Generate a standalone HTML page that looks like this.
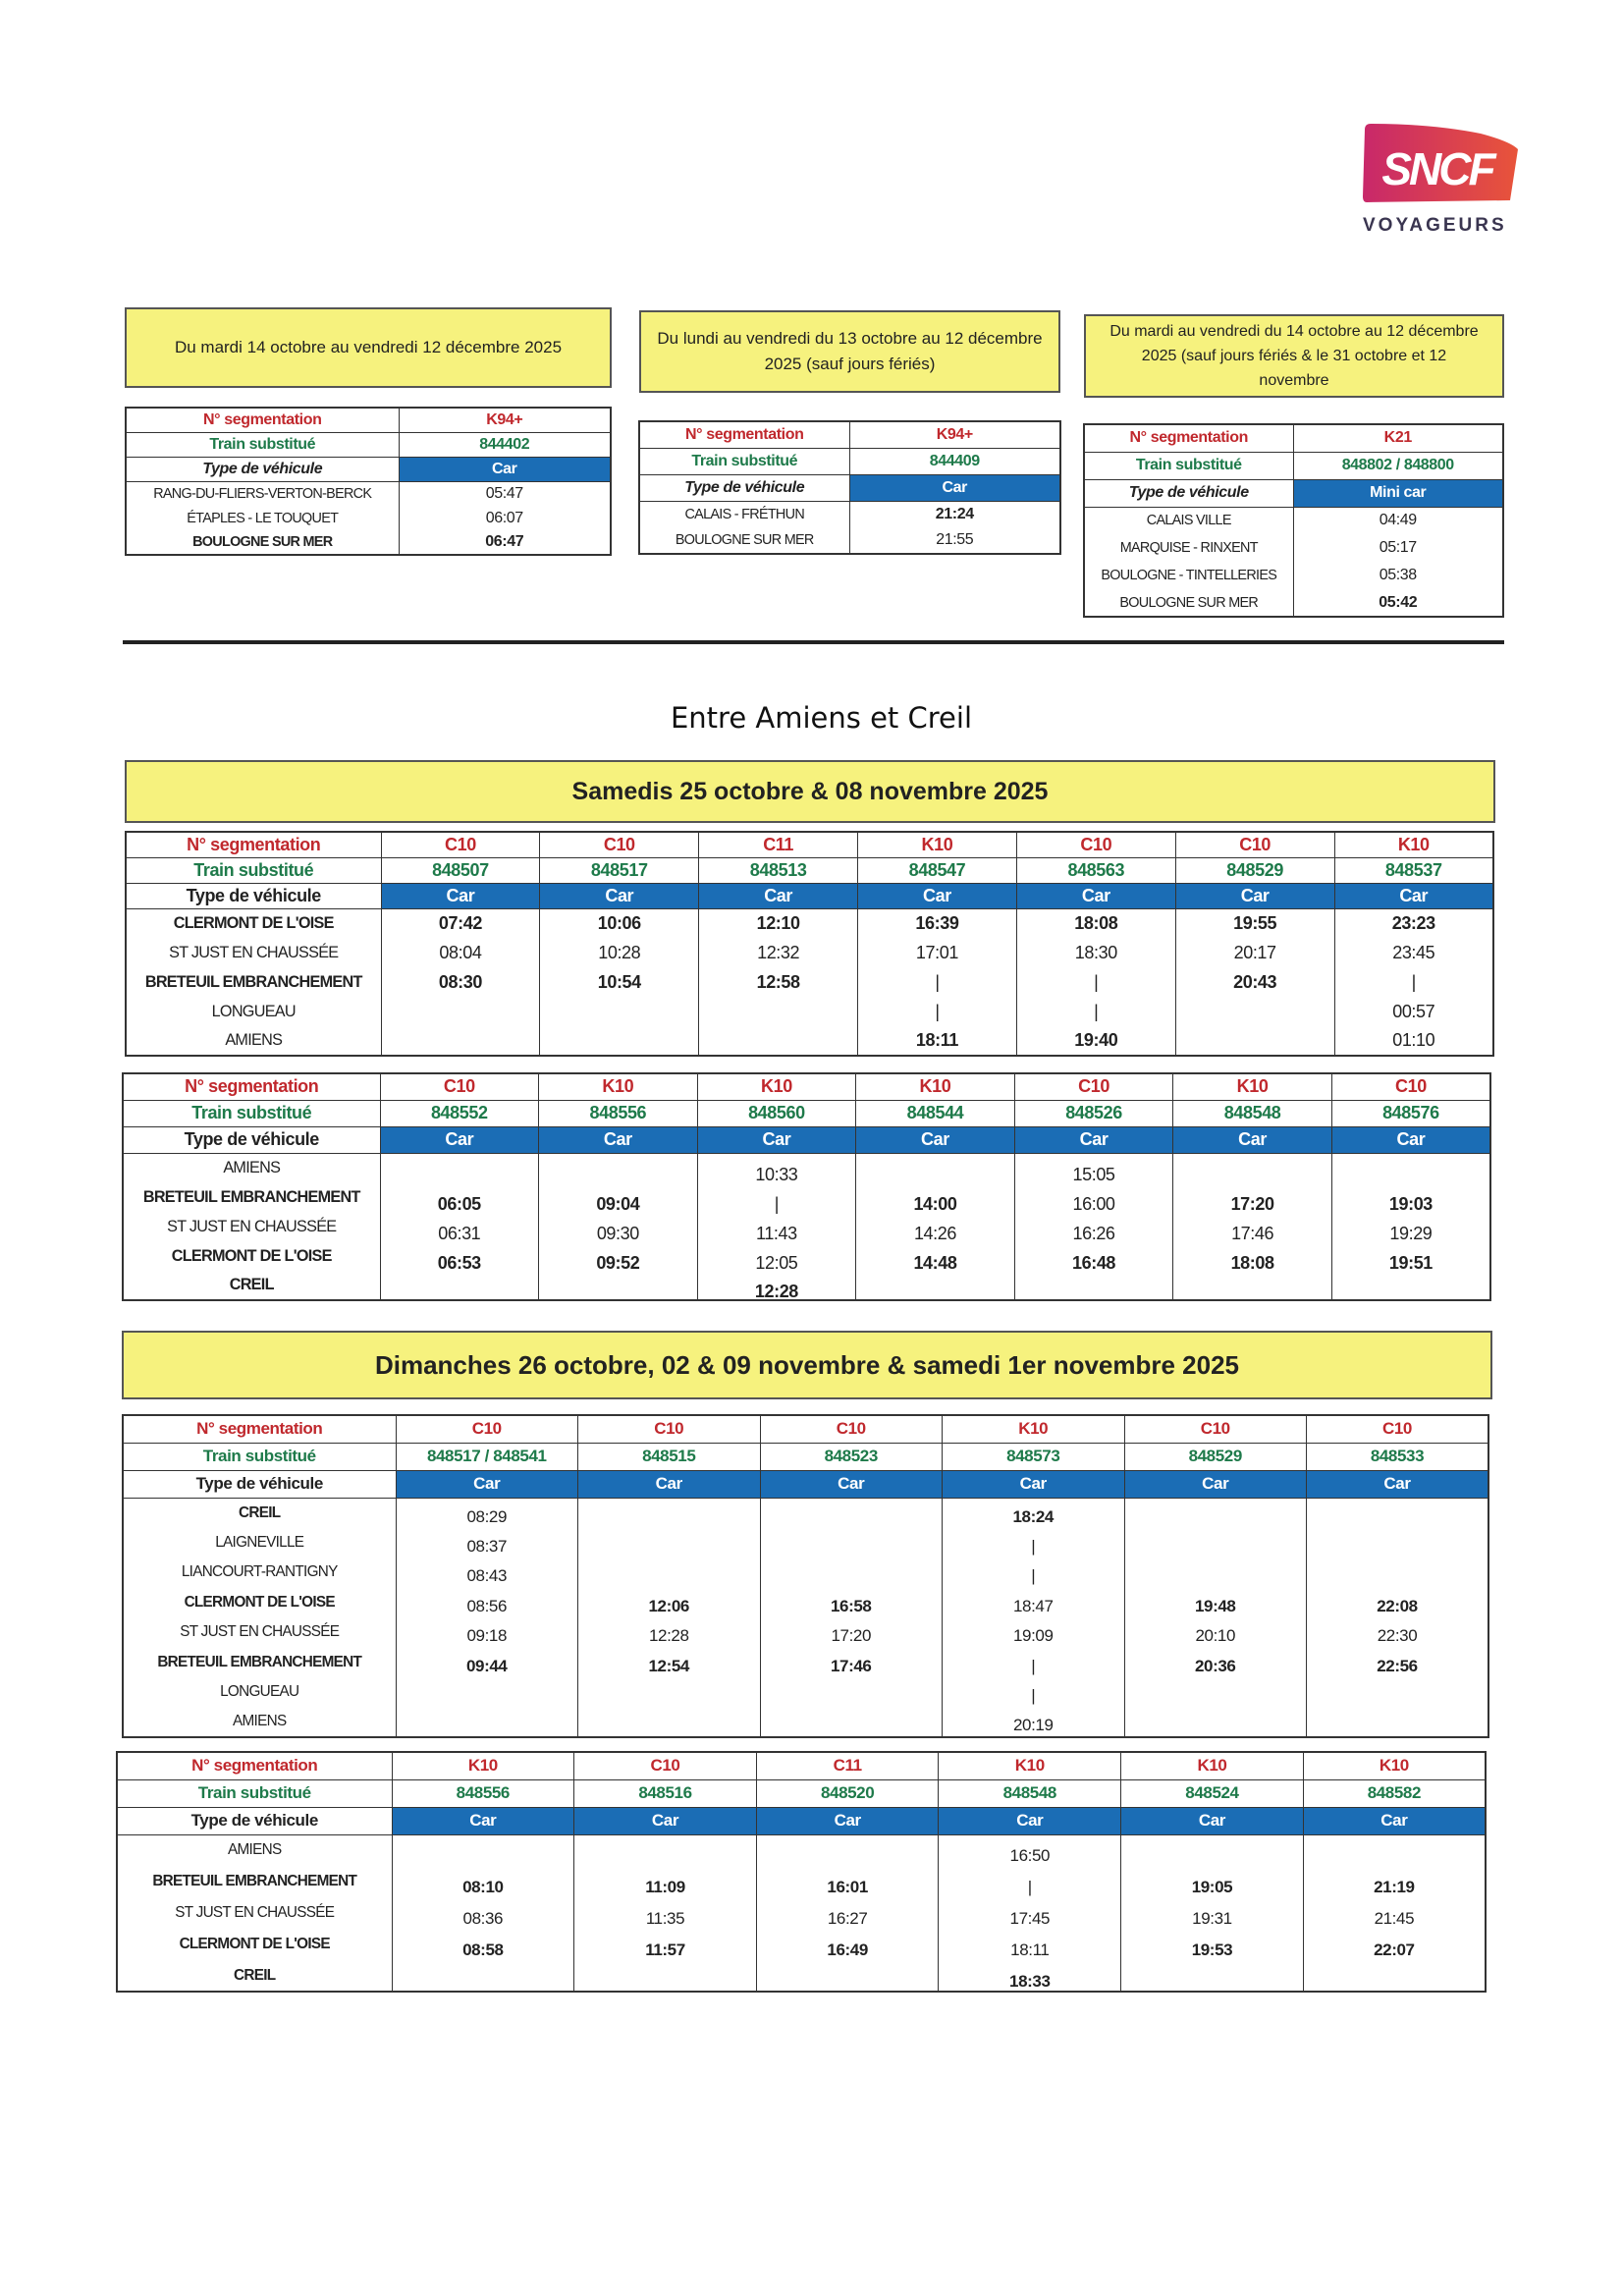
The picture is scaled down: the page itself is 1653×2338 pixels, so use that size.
<!DOCTYPE html>
<html><head><meta charset="utf-8">
<style>
html,body{margin:0;padding:0;background:#fff}
body{width:1653px;height:2338px;position:relative;overflow:hidden;font-family:"Liberation Sans Narrow","Liberation Sans",sans-serif}
.abs{position:absolute}
.yellow{background:#f6f27e;border:2px solid #555;box-sizing:border-box;display:flex;align-items:center;justify-content:center;text-align:center;color:#222}
table.tt{position:absolute;border-collapse:collapse;table-layout:fixed;border:2px solid #333;font-size:17px;color:#222;letter-spacing:-0.4px}
table.tt td{padding:0;text-align:center;white-space:nowrap;overflow:hidden;border-left:1.5px solid #333;border-right:1.5px solid #333}
table.tt td.st{font-size:0.9em;letter-spacing:-0.7px}
table.tt tr.h td{border-bottom:1.5px solid #333;font-weight:bold}
.seg{color:#c0282d}
.trn{color:#1e7a4a}
td.blue{background:#1b6db5;color:#fff;font-weight:bold}
.b{font-weight:bold}
</style></head><body>
<div class="abs" style="left:1388px;top:124px;width:160px;height:84px">
<svg width="160" height="84" viewBox="0 0 160 84">
<defs><linearGradient id="g" x1="0" y1="0" x2="1" y2="0"><stop offset="0" stop-color="#c8286a"/><stop offset="1" stop-color="#e8543a"/></linearGradient></defs>
<path d="M8 2 Q70 2 120 12 Q150 20 158 28 L150 80 L4 82 Q0 82 0 76 L2 8 Q2 2 8 2Z" fill="url(#g)"/>
<text x="76" y="64" text-anchor="middle" font-family="Liberation Sans" font-weight="bold" font-style="italic" font-size="46" fill="#fff" letter-spacing="-3">SNCF</text>
</svg></div>
<div class="abs" style="left:1388px;top:219px;width:150px;font-family:'Liberation Sans',sans-serif;font-weight:bold;font-size:19px;letter-spacing:3px;color:#3a3550">VOYAGEURS</div>

<div class="abs yellow" style="left:127px;top:313px;width:496px;height:82px;font-size:17px">Du mardi 14 octobre au vendredi 12 décembre 2025</div>
<div class="abs yellow" style="left:651px;top:316px;width:429px;height:84px;font-size:17px;line-height:26px">Du lundi au vendredi du 13 octobre au 12 décembre<br>2025 (sauf jours fériés)</div>
<div class="abs yellow" style="left:1104px;top:320px;width:428px;height:85px;font-size:16px;line-height:25px">Du mardi au vendredi du 14 octobre au 12 décembre<br>2025 (sauf jours fériés &amp; le 31 octobre et 12<br>novembre</div>

<div class="abs" style="left:125px;top:652px;width:1407px;height:4px;background:#222"></div>
<div class="abs" style="left:0;top:714px;width:1653px;text-align:center;font-family:'DejaVu Sans',sans-serif;font-size:29px;color:#111;padding-left:10px">Entre Amiens et Creil</div>

<div class="abs yellow" style="left:127px;top:774px;width:1396px;height:64px;font-size:25px;font-weight:bold">Samedis 25 octobre &amp; 08 novembre 2025</div>
<div class="abs yellow" style="left:124px;top:1355px;width:1396px;height:70px;font-size:26px;font-weight:bold">Dimanches 26 octobre, 02 &amp; 09 novembre &amp; samedi 1er novembre 2025</div>

<div id="root"></div>
<script>
const t1Segs=["K94+"];const t1Trains=["844402"];const t1Types=["Car"];
const t1Stations=["RANG-DU-FLIERS-VERTON-BERCK","ÉTAPLES - LE TOUQUET","*BOULOGNE SUR MER"];
const t1Times=[["05:47","06:07","*06:47"]];
const t2Segs=["K94+"];const t2Trains=["844409"];const t2Types=["Car"];
const t2Stations=["CALAIS - FRÉTHUN","BOULOGNE SUR MER"];
const t2Times=[["*21:24","21:55"]];
const t3Segs=["K21"];const t3Trains=["848802 / 848800"];const t3Types=["Mini car"];
const t3Stations=["CALAIS VILLE","MARQUISE - RINXENT","BOULOGNE - TINTELLERIES","BOULOGNE SUR MER"];
const t3Times=[["04:49","05:17","05:38","*05:42"]];
const aSegs=["C10","C10","C11","K10","C10","C10","K10"];
const aTrains=["848507","848517","848513","848547","848563","848529","848537"];
const aStations=["*CLERMONT DE L'OISE","ST JUST EN CHAUSSÉE","*BRETEUIL EMBRANCHEMENT","LONGUEAU","AMIENS"];
const aTimes=[["*07:42","08:04","*08:30","",""],["*10:06","10:28","*10:54","",""],["*12:10","12:32","*12:58","",""],["*16:39","17:01","|","|","*18:11"],["*18:08","18:30","|","|","*19:40"],["*19:55","20:17","*20:43","",""],["*23:23","23:45","|","00:57","01:10"]];
const bSegs=["C10","K10","K10","K10","C10","K10","C10"];
const bTrains=["848552","848556","848560","848544","848526","848548","848576"];
const bStations=["AMIENS","*BRETEUIL EMBRANCHEMENT","ST JUST EN CHAUSSÉE","*CLERMONT DE L'OISE","*CREIL"];
const bTimes=[["","*06:05","06:31","*06:53",""],["","*09:04","09:30","*09:52",""],["10:33","|","11:43","12:05","*12:28"],["","*14:00","14:26","*14:48",""],["15:05","16:00","16:26","*16:48",""],["","*17:20","17:46","*18:08",""],["","*19:03","19:29","*19:51",""]];
const cSegs=["C10","C10","C10","K10","C10","C10"];
const cTrains=["848517 / 848541","848515","848523","848573","848529","848533"];
const cStations=["*CREIL","LAIGNEVILLE","LIANCOURT-RANTIGNY","*CLERMONT DE L'OISE","ST JUST EN CHAUSSÉE","*BRETEUIL EMBRANCHEMENT","LONGUEAU","AMIENS"];
const cTimes=[["08:29","08:37","08:43","08:56","09:18","*09:44","",""],["","","","*12:06","12:28","*12:54","",""],["","","","*16:58","17:20","*17:46","",""],["*18:24","|","|","18:47","19:09","|","|","20:19"],["","","","*19:48","20:10","*20:36","",""],["","","","*22:08","22:30","*22:56","",""]];
const dSegs=["K10","C10","C11","K10","K10","K10"];
const dTrains=["848556","848516","848520","848548","848524","848582"];
const dStations=["AMIENS","*BRETEUIL EMBRANCHEMENT","ST JUST EN CHAUSSÉE","*CLERMONT DE L'OISE","*CREIL"];
const dTimes=[["","*08:10","08:36","*08:58",""],["","*11:09","11:35","*11:57",""],["","*16:01","16:27","*16:49",""],["16:50","|","17:45","18:11","*18:33"],["","*19:05","19:31","*19:53",""],["","*21:19","21:45","*22:07",""]];

function aTypes7(){return ["Car","Car","Car","Car","Car","Car","Car"];}
function cTypes6(){return ["Car","Car","Car","Car","Car","Car"];}
function cell(v){ if(v.startsWith("*")) return '<span class="b">'+v.slice(1)+'</span>'; return v; }
function build(name,x,y,w,labW,hH,rH,segs,trains,types,stations,times,italicType,shift,fs){
  const n=segs.length, cw=(w-labW)/n;
  let h='<colgroup><col style="width:'+labW+'px">';
  for(let i=0;i<n;i++) h+='<col style="width:'+cw+'px">';
  h+='</colgroup>';
  h+='<tr class="h" style="height:'+hH+'px"><td class="lab seg">N° segmentation</td>';
  segs.forEach(s=>{h+='<td class="seg">'+s+'</td>';});
  h+='</tr><tr class="h" style="height:'+hH+'px"><td class="lab trn">Train substitué</td>';
  trains.forEach(s=>{h+='<td class="trn">'+s+'</td>';});
  h+='</tr><tr class="h" style="height:'+hH+'px"><td class="lab" style="'+(italicType?'font-style:italic':'')+'">Type de véhicule</td>';
  types.forEach(s=>{h+='<td class="blue">'+s+'</td>';});
  h+='</tr>';
  stations.forEach((st,r)=>{
    h+='<tr style="height:'+rH+'px"><td class="st">'+cell(st)+'</td>';
    for(let c=0;c<n;c++){const v=times[c][r]||"";h+='<td style="position:relative;top:'+shift+'px">'+cell(v)+'</td>';}
    h+='</tr>';
  });
  const t=document.createElement('table');
  t.className='tt';
  
  
  t.style.left=x+'px';t.style.top=y+'px';t.style.width=w+'px';t.style.fontSize=fs+'px';
  t.innerHTML=h;
  document.getElementById('root').appendChild(t);
}
build('table-top-1',127,414,494,278,25,25,t1Segs,t1Trains,t1Types,t1Stations,t1Times,true,0,16);
build('table-top-2',650,428,429,214,27,27,t2Segs,t2Trains,t2Types,t2Stations,t2Times,true,0,16);
build('table-top-3',1103,431,427,213,28,28,t3Segs,t3Trains,t3Types,t3Stations,t3Times,true,0,16);
build('table-sat-creil-amiens',127,846,1393,260,26,30,aSegs,aTrains,aTypes7(),aStations,aTimes,false,0,18);
build('table-sat-amiens-creil',124,1092,1393,262,27,30,bSegs,bTrains,aTypes7(),bStations,bTimes,false,7,18);
build('table-sun-creil-amiens',124,1440,1391,278,28,30.5,cSegs,cTrains,cTypes6(),cStations,cTimes,false,4,17);
build('table-sun-amiens-creil',118,1783,1394,280,28,32,dSegs,dTrains,cTypes6(),dStations,dTimes,false,6,17);
</script>
</body></html>
